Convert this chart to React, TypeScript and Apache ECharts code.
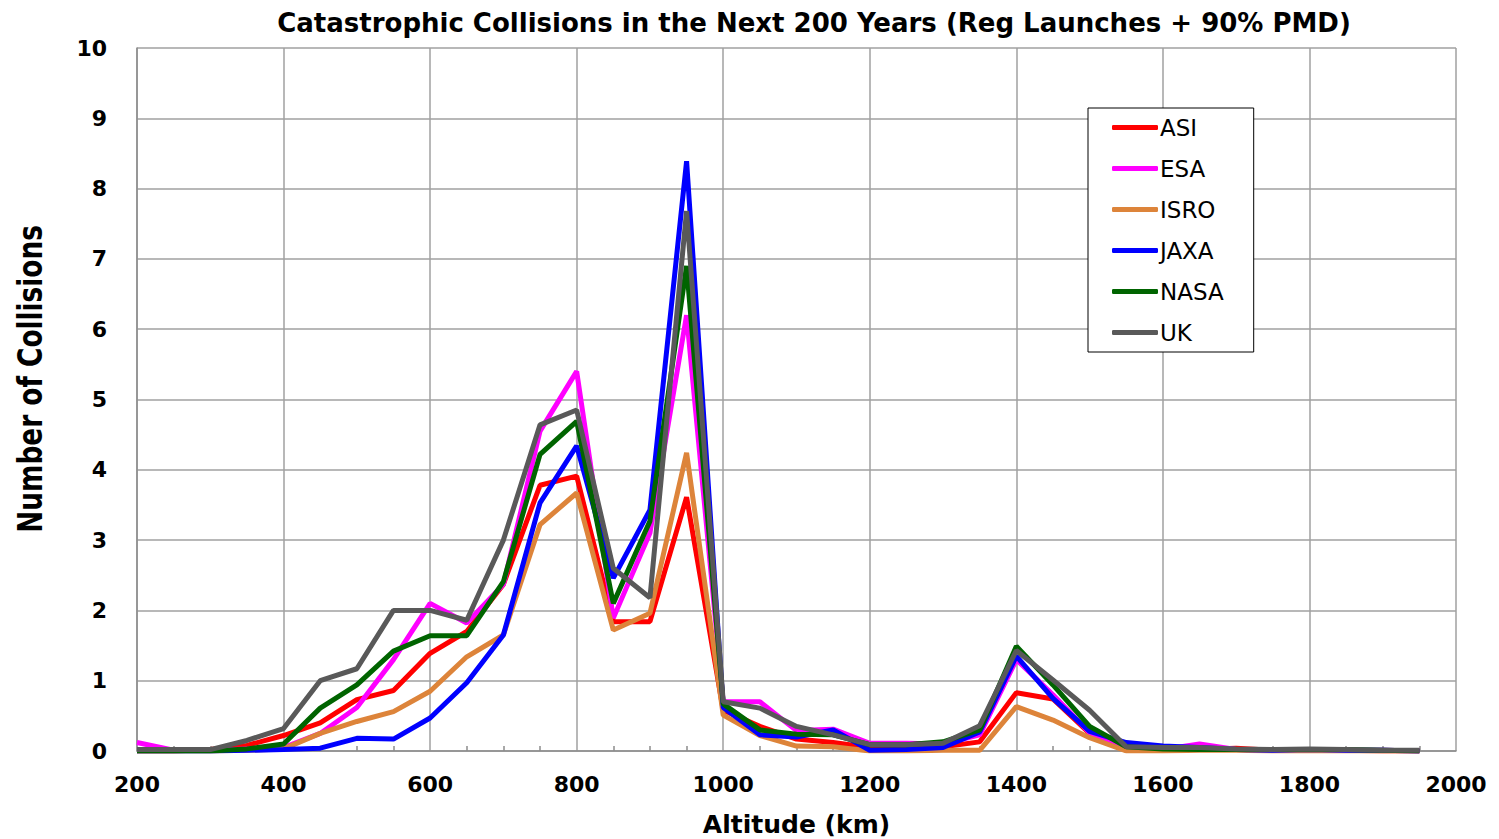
import React, { useEffect, useRef } from "react";
import * as echarts from "echarts";

const altitudes = [200, 250, 300, 350, 400, 450, 500, 550, 600, 650, 700, 750, 800, 850, 900, 950, 1000, 1050, 1100, 1150, 1200, 1250, 1300, 1350, 1400, 1450, 1500, 1550, 1600, 1650, 1700, 1750, 1800, 1850, 1900, 1950];

const asi = [0, 0, 0.02, 0.08, 0.22, 0.4, 0.73, 0.86, 1.39, 1.7, 2.37, 3.78, 3.91, 1.84, 1.84, 3.61, 0.58, 0.35, 0.17, 0.12, 0.05, 0.03, 0.06, 0.13, 0.83, 0.74, 0.25, 0.02, 0.02, 0.02, 0.04, 0.01, 0.01, 0.01, 0, 0];
const esa = [0.12, 0.01, 0.01, 0.03, 0.05, 0.25, 0.62, 1.3, 2.1, 1.82, 2.37, 4.55, 5.4, 1.89, 3.1, 6.2, 0.7, 0.7, 0.29, 0.31, 0.11, 0.11, 0.1, 0.23, 1.3, 0.8, 0.26, 0.01, 0.02, 0.1, 0.02, 0.01, 0.02, 0.01, 0.01, 0];
const isro = [0, 0, 0, 0.01, 0.03, 0.25, 0.42, 0.56, 0.85, 1.34, 1.65, 3.22, 3.67, 1.72, 1.96, 4.24, 0.51, 0.22, 0.07, 0.06, 0, 0, 0.01, 0.01, 0.63, 0.44, 0.19, 0, 0, 0.01, 0.01, 0, 0, 0, 0, 0];
const jaxa = [0, 0, 0, 0.01, 0.02, 0.04, 0.18, 0.17, 0.47, 0.97, 1.65, 3.53, 4.34, 2.46, 3.43, 8.39, 0.62, 0.23, 0.2, 0.3, 0.01, 0.02, 0.05, 0.27, 1.35, 0.75, 0.28, 0.12, 0.07, 0.05, 0.02, 0.01, 0.02, 0.01, 0.01, 0];
const nasa = [0, 0, 0, 0.03, 0.1, 0.61, 0.94, 1.42, 1.64, 1.64, 2.41, 4.22, 4.69, 2.1, 3.27, 6.9, 0.67, 0.3, 0.24, 0.23, 0.09, 0.09, 0.13, 0.3, 1.49, 0.94, 0.35, 0.06, 0.03, 0.02, 0.02, 0.02, 0.02, 0.02, 0.01, 0];
const uk = [0.02, 0.02, 0.02, 0.15, 0.32, 1.0, 1.17, 2.0, 2.0, 1.86, 3.0, 4.64, 4.85, 2.6, 2.18, 7.68, 0.7, 0.61, 0.35, 0.23, 0.09, 0.09, 0.11, 0.36, 1.43, 1.01, 0.58, 0.06, 0.05, 0.05, 0.03, 0.02, 0.03, 0.02, 0.01, 0.01];

const seriesNames = ["ASI", "ESA", "ISRO", "JAXA", "NASA", "UK"];
const seriesValues = [asi, esa, isro, jaxa, nasa, uk];
const seriesColors = ["#ff0000", "#ff00ff", "#dd843a", "#0000ff", "#006400", "#595959"];

const titleText = "Catastrophic Collisions in the Next 200 Years (Reg Launches + 90% PMD)";
const xTitle = "Altitude (km)";
const yTitle = "Number of Collisions";

export default function App() {
  const ref = useRef<HTMLDivElement>(null);
  useEffect(() => {
    if (!ref.current) return;
    const chart = echarts.init(ref.current, undefined, { renderer: "svg" });
    const font = "DejaVu Sans";
    chart.setOption({
      animation: false,
      backgroundColor: "#ffffff",
      title: {
        text: titleText,
        left: 809,
        top: 5,
        textAlign: "center",
        textStyle: { fontFamily: font, fontWeight: "bold", fontSize: 26, color: "#000" },
      },
      legend: {
        data: seriesNames,
        orient: "vertical",
        left: 1088,
        top: 108,
        padding: [8, 30, 8, 24],
        itemGap: 18,
        itemWidth: 46,
        itemHeight: 5,
        icon: "roundRect",
        borderColor: "#000",
        borderWidth: 1,
        backgroundColor: "#fff",
        textStyle: { fontFamily: font, fontSize: 23, color: "#000", lineHeight: 20, padding: [0, 0, 0, -3] },
      },
      grid: { left: 137, right: 43, top: 48, bottom: 88, containLabel: false, outerBoundsMode: "none" },
      xAxis: {
        type: "value",
        min: 200,
        max: 2000,
        interval: 200,
        name: xTitle,
        nameLocation: "middle",
        nameGap: 61,
        nameTextStyle: { fontFamily: font, fontWeight: "bold", fontSize: 25, color: "#000" },
        axisLine: { show: true, lineStyle: { color: "#8c8c8c", width: 1.5 } },
        axisTick: { show: false, inside: true },
        minorTick: { show: true, splitNumber: 4, length: 5, lineStyle: { color: "#8c8c8c", width: 1.5 } },
        splitLine: { show: true, lineStyle: { color: "#a0a0a0", width: 1.5 } },
        axisLabel: {
          fontFamily: font,
          fontWeight: "bold",
          fontSize: 22,
          color: "#000",
          margin: 22,
          formatter: (v: number) => String(v),
        },
      },
      yAxis: {
        type: "value",
        min: 0,
        max: 10,
        interval: 1,
        axisLine: { show: true, lineStyle: { color: "#8c8c8c", width: 1.5 } },
        axisTick: { show: false },
        splitLine: { show: true, lineStyle: { color: "#a0a0a0", width: 1.5 } },
        axisLabel: { fontFamily: font, fontWeight: "bold", fontSize: 22, color: "#000", margin: 30 },
      },
      graphic: [
        {
          type: "text",
          x: 30,
          y: 379,
          rotation: Math.PI / 2,
          scaleX: 0.775,
          style: {
            text: yTitle,
            font: 'bold 34px "DejaVu Sans", sans-serif',
            align: "center",
            verticalAlign: "middle",
            textAlign: "center",
            textVerticalAlign: "middle",
            fill: "#000",
          },
        },
      ],
      series: seriesNames.map((name, k) => ({
        name,
        type: "line",
        symbol: "none",
        data: altitudes.map((a, i) => [a, seriesValues[k][i]]),
        lineStyle: { width: 5, color: seriesColors[k] },
        itemStyle: { color: seriesColors[k] },
      })),
    });
    return () => chart.dispose();
  }, []);
  return <div ref={ref} style={{ position: "absolute", left: 0, top: 0, width: 1499, height: 839 }} />;
}
